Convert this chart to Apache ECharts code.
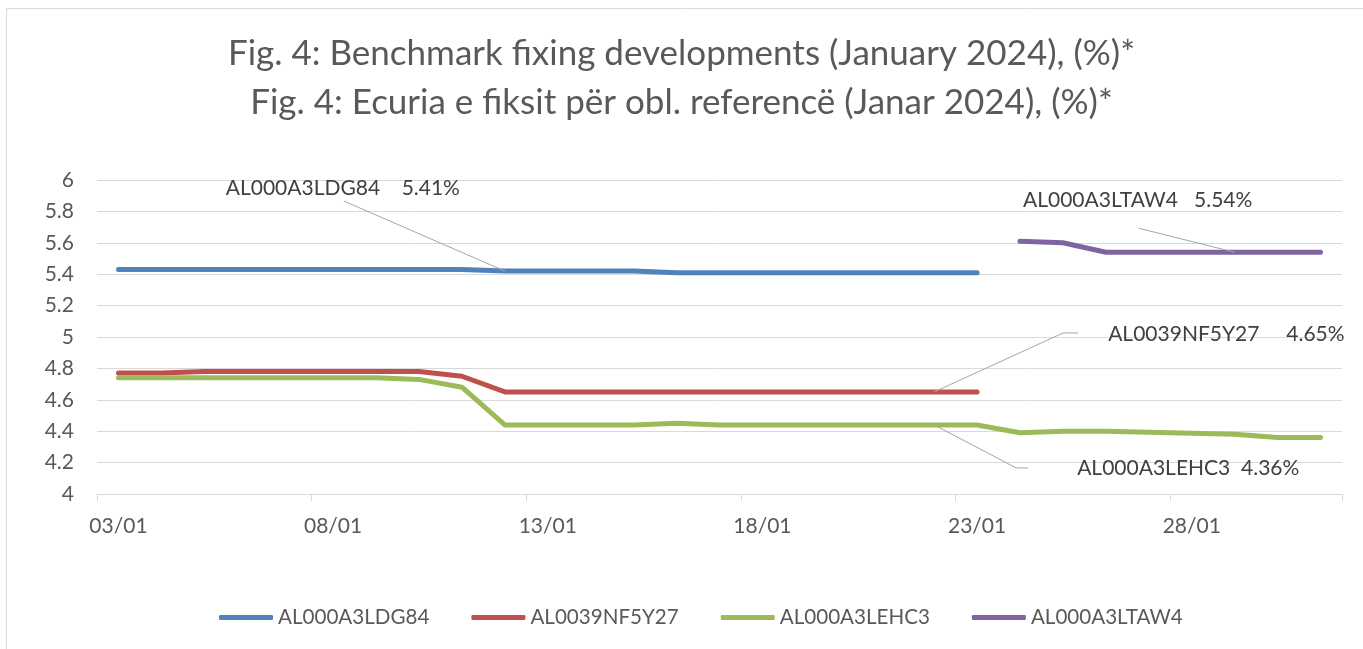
<!DOCTYPE html>
<html>
<head>
<meta charset="utf-8">
<script src="https://cdn.jsdelivr.net/npm/echarts@6/dist/echarts.min.js"></script>
<style>
html,body{margin:0;padding:0;background:#fff;}
#chart{width:1363px;height:649px;}
</style>
</head>
<body>
<div id="chart"></div>
<script>
// Dates (January 2024), weekends have no fixing (null)
const categories = ['03/01','04/01','05/01','06/01','07/01','08/01','09/01','10/01','11/01','12/01',
  '13/01','14/01','15/01','16/01','17/01','18/01','19/01','20/01','21/01','22/01','23/01',
  '24/01','25/01','26/01','27/01','28/01','29/01','30/01','31/01'];
const n = null;
const seriesNames = ['AL000A3LDG84','AL0039NF5Y27','AL000A3LEHC3','AL000A3LTAW4'];
const ldg84 = [5.43,5.43,5.43,n,n,5.43,5.43,5.43,5.43,5.42,n,n,5.42,5.41,5.41,5.41,5.41,n,n,5.41,5.41,n,n,n,n,n,n,n,n];
const nf5y27 = [4.77,4.77,4.78,n,n,4.78,4.78,4.78,4.75,4.65,n,n,4.65,4.65,4.65,4.65,4.65,n,n,4.65,4.65,n,n,n,n,n,n,n,n];
const lehc3 = [4.74,4.74,4.74,n,n,4.74,4.74,4.73,4.68,4.44,n,n,4.44,4.45,4.44,4.44,4.44,n,n,4.44,4.44,4.39,4.40,4.40,n,n,4.38,4.36,4.36];
const ltaw4 = [n,n,n,n,n,n,n,n,n,n,n,n,n,n,n,n,n,n,n,n,n,5.61,5.60,5.54,n,n,5.54,5.54,5.54];
const colors = ['#4F81BD','#C0504D','#9BBB59','#8064A2'];
// Annotation texts and the data point each one points at: [series index, data index, text]
const annotationTexts = [
  [0, 9,  'AL000A3LDG84    5.41%'],
  [1, 19, 'AL0039NF5Y27     4.65%'],
  [2, 19, 'AL000A3LEHC3  4.36%'],
  [3, 26, 'AL000A3LTAW4   5.54%']
];
// Leader-line / text offsets from the anchor point (layout only)
const annotationLayout = [
  {bend: [-161, -70], end: null, text: [-162, -83], align: 'center'},
  {bend: [129, -59], end: [144, -59], text: [174, -58], align: 'left'},
  {bend: [82, 43], end: [94, 43], text: [143, 43], align: 'left'},
  {bend: [-96, -24], end: null, text: [-97, -52], align: 'center'}
];
const FONT = 'Lato';
const TXT = '#595959';

const allData = [ldg84, nf5y27, lehc3, ltaw4];
const series = allData.map((arr, si) => ({
  name: seriesNames[si],
  type: 'line',
  data: arr,
  connectNulls: true,
  showSymbol: false,
  symbol: 'none',
  smooth: false,
  lineStyle: {color: colors[si], width: 5, cap: 'round', join: 'round'},
  itemStyle: {color: colors[si]},
  emphasis: {disabled: true},
  z: 2
}));

const chart = echarts.init(document.getElementById('chart'), null, {renderer: 'canvas'});
chart.setOption({
  animation: false,
  backgroundColor: '#fff',
  title: {
    text: 'Fig. 4: Benchmark fixing developments (January 2024), (%)*\nFig. 4: Ecuria e fiksit për obl. referencë (Janar 2024), (%)*',
    left: 'center',
    top: 24,
    textStyle: {fontFamily: FONT, fontSize: 35, fontWeight: 'normal', color: TXT, lineHeight: 49}
  },
  legend: {
    bottom: 16,
    left: 214,
    icon: 'roundRect',
    itemWidth: 54,
    itemHeight: 5,
    itemGap: 42,
    textStyle: {fontFamily: FONT, fontSize: 20.6, color: TXT},
    data: seriesNames
  },
  grid: {left: 97, right: 21, top: 180, bottom: 155, containLabel: false},
  xAxis: {
    type: 'category',
    data: categories,
    boundaryGap: true,
    axisLine: {show: true, lineStyle: {color: '#D9D9D9', width: 1}},
    axisTick: {show: true, interval: 4, length: 7, lineStyle: {color: '#D9D9D9'}},
    axisLabel: {interval: 4, margin: 22, fontFamily: FONT, fontSize: 21, color: TXT},
    splitLine: {show: false}
  },
  yAxis: {
    type: 'value',
    min: 4,
    max: 6,
    interval: 0.2,
    axisLine: {show: false},
    axisTick: {show: false},
    axisLabel: {margin: 23, fontFamily: FONT, fontSize: 21, color: TXT},
    splitLine: {lineStyle: {color: '#D9D9D9', width: 1}}
  },
  series: series
});

// Annotations: anchored on data points through the chart's own scales
const graphics = [{
  type: 'rect',
  shape: {x: 6.5, y: 8.5, width: 1400, height: 700},
  style: {fill: 'none', stroke: '#D9D9D9', lineWidth: 1},
  silent: true,
  z: -10
}];
annotationTexts.forEach((a, i) => {
  const lay = annotationLayout[i];
  const p = chart.convertToPixel({xAxisIndex: 0, yAxisIndex: 0}, [a[1], allData[a[0]][a[1]]]);
  const pts = [[p[0], p[1]], [p[0] + lay.bend[0], p[1] + lay.bend[1]]];
  if (lay.end) pts.push([p[0] + lay.end[0], p[1] + lay.end[1]]);
  graphics.push({
    type: 'polyline',
    shape: {points: pts},
    style: {stroke: '#A6A6A6', lineWidth: 1, fill: 'none'},
    silent: true,
    z: 10
  });
  graphics.push({
    type: 'text',
    x: p[0] + lay.text[0],
    y: p[1] + lay.text[1],
    style: {text: a[2], fill: '#404040', font: '21px ' + FONT, align: lay.align, verticalAlign: 'middle'},
    silent: true,
    z: 10
  });
});
chart.setOption({graphic: graphics});
</script>
</body>
</html>
